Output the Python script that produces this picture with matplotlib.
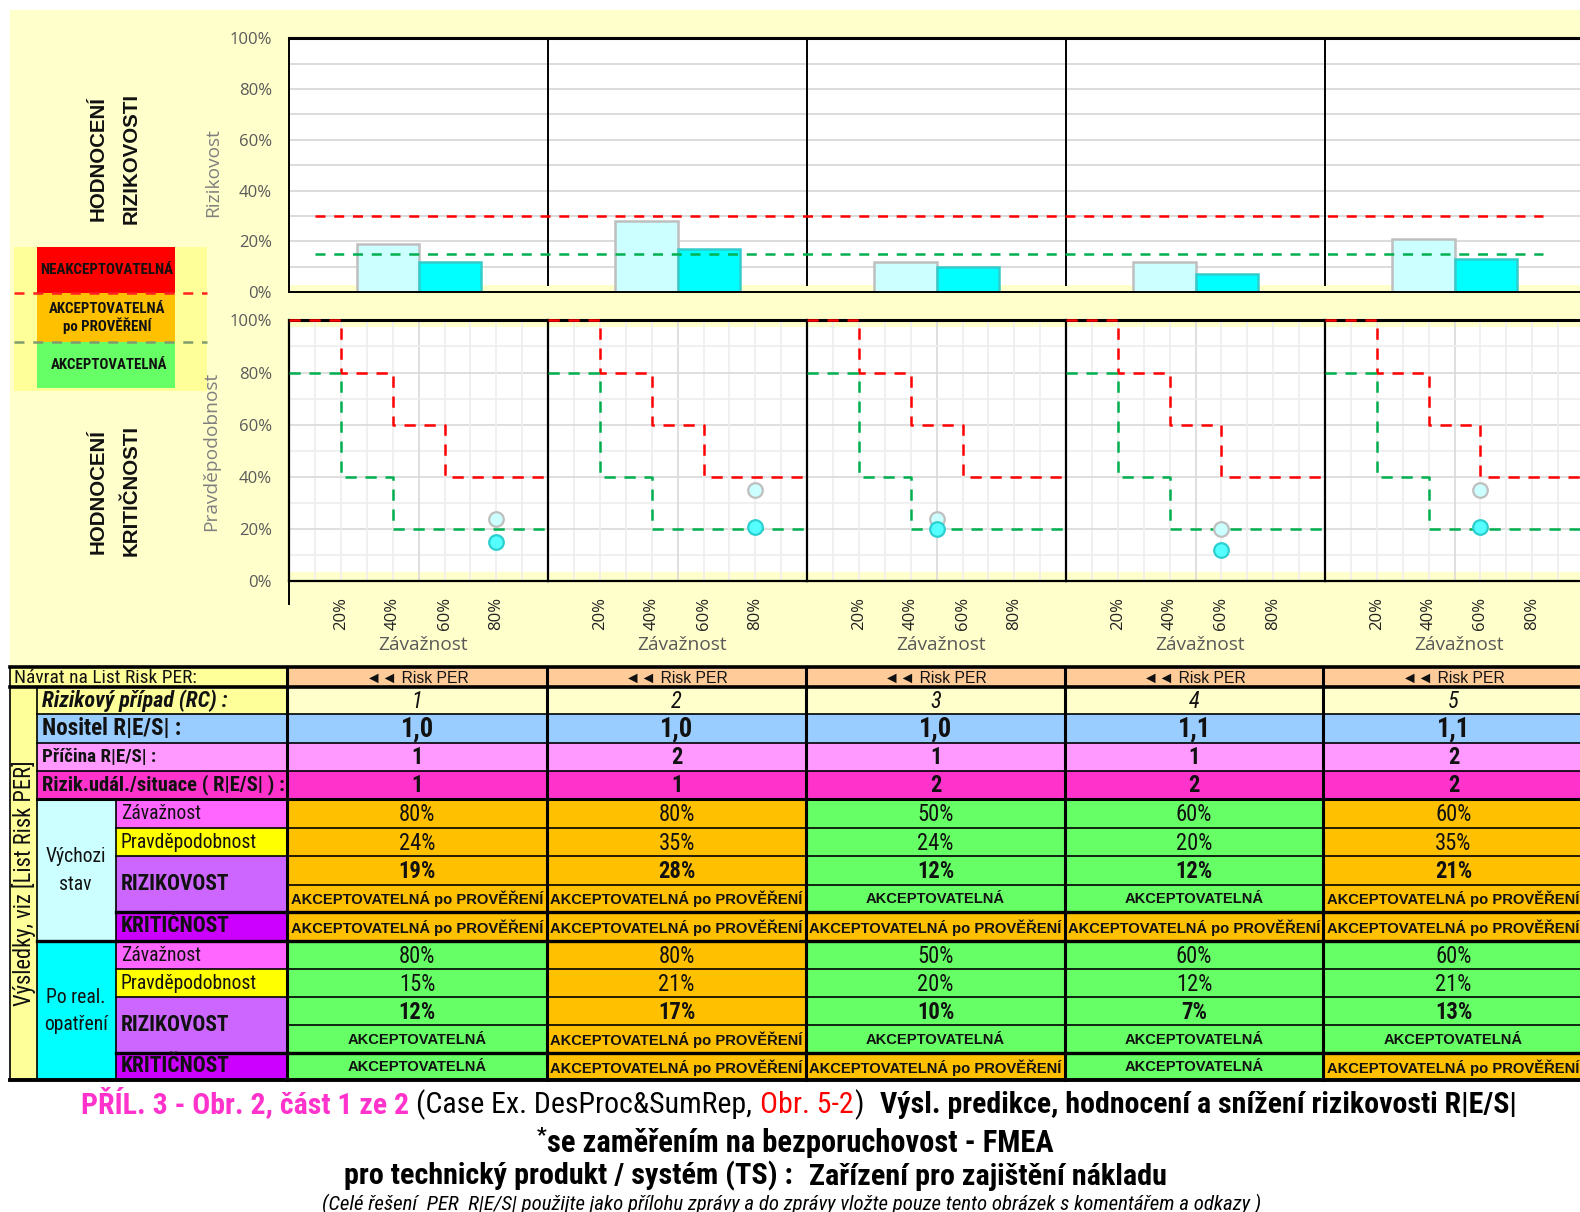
import matplotlib
matplotlib.use("Agg")
import matplotlib.pyplot as plt
from matplotlib import font_manager
from matplotlib.patches import Rectangle
import numpy as np

# ---------------- data ----------------
cases = [1, 2, 3, 4, 5]
nositel = ["1,0", "1,0", "1,0", "1,1", "1,1"]
pricina = [1, 2, 1, 1, 2]
udalost = [1, 1, 2, 2, 2]

zavaznost_init = [0.80, 0.80, 0.50, 0.60, 0.60]
pravdep_init = [0.24, 0.35, 0.24, 0.20, 0.35]
rizikovost_init = [0.19, 0.28, 0.12, 0.12, 0.21]

zavaznost_post = [0.80, 0.80, 0.50, 0.60, 0.60]
pravdep_post = [0.15, 0.21, 0.20, 0.12, 0.21]
rizikovost_post = [0.12, 0.17, 0.10, 0.07, 0.13]

riz_cat_init = ["AP", "AP", "A", "A", "AP"]
krit_cat_init = ["AP", "AP", "AP", "AP", "AP"]
riz_cat_post = ["A", "AP", "A", "A", "A"]
krit_cat_post = ["A", "AP", "AP", "A", "AP"]

risk_limit_red = 0.30
risk_limit_green = 0.15
crit_red_x = [0.0, 0.2, 0.2, 0.4, 0.4, 0.6, 0.6, 1.0]
crit_red_y = [1.0, 1.0, 0.8, 0.8, 0.6, 0.6, 0.4, 0.4]
crit_green_x = [0.0, 0.2, 0.2, 0.4, 0.4, 1.0]
crit_green_y = [0.8, 0.8, 0.4, 0.4, 0.2, 0.2]

y_ticks = [0.0, 0.2, 0.4, 0.6, 0.8, 1.0]
x_ticks = [0.2, 0.4, 0.6, 0.8]

CAT_TEXT = {"A": "AKCEPTOVATELNÁ", "AP": "AKCEPTOVATELNÁ po PROVĚŘENÍ"}
CAT_COLOR = {"A": "#66FF66", "AP": "#FFC000"}


def pct(v):
    return f"{round(v * 100):d}%"


# ---------------- fonts ----------------
def have(name):
    try:
        font_manager.findfont(name, fallback_to_default=False)
        return True
    except Exception:
        return False


SANS = "Liberation Sans" if have("Liberation Sans") else "DejaVu Sans"
CHART = "Open Sans" if have("Open Sans") else "DejaVu Sans"


def pick_narrow():
    entries = font_manager.fontManager.ttflist
    names = {f.name for f in entries}
    for nm in ("Liberation Sans Narrow", "Arial Narrow", "Roboto Condensed",
               "Open Sans Condensed", "Noto Sans Condensed"):
        if nm in names:
            return dict(family=nm)
    for fam in ("Noto Sans", "Open Sans", "DejaVu Sans"):
        cond = [f for f in entries if f.name == fam and
                str(f.stretch) in ("condensed", "semi-condensed", "75", "87")]
        if cond:
            return dict(family=fam, stretch="condensed")
    return dict(family=SANS)


NARROW = pick_narrow()

# ---------------- canvas ----------------
W, H = 1568, 1203
S = 1580 / 1568
fig = plt.figure(figsize=(15.8, 12.12), dpi=100, facecolor="white")
bg = fig.add_axes([0, 0, 1, 1], zorder=0)
bg.set_xlim(0, W)
bg.set_ylim(H, 0)
bg.set_axis_off()
rend = fig.canvas.get_renderer()


def frac(x0, y0, x1, y1):
    return [x0 / W, 1 - y1 / H, (x1 - x0) / W, (y1 - y0) / H]


def box(x0, y0, x1, y1, fc, z=0.5):
    bg.add_patch(Rectangle((x0, y0), x1 - x0, y1 - y0, facecolor=fc,
                           edgecolor="none", zorder=z))


def hline(y, x0, x1, lw=1.0):
    bg.plot([x0, x1], [y, y], color="black", lw=lw, zorder=2,
            solid_capstyle="projecting")


def vline(x, y0, y1, lw=1.0):
    bg.plot([x, x], [y0, y1], color="black", lw=lw, zorder=2,
            solid_capstyle="projecting")


def size_for(s, width, rotation=0, **props):
    fs = 12.0
    for _ in range(3):
        t = bg.text(0, 0, s, fontsize=fs, rotation=rotation, **props)
        bb = t.get_window_extent(renderer=rend)
        w = (bb.height if rotation else bb.width) / S
        t.remove()
        fs *= width / w
    return fs


def label(x, y, s, fs, ha="center", rotation=0, color="#111111", **props):
    return bg.text(x, y, s, fontsize=fs, ha=ha, va="center", rotation=rotation,
                   color=color, zorder=3, **props)


def rich_line(segs, x0, x1, y):
    base = 12.0
    objs = [bg.text(0, y, s, ha="left", va="baseline", fontsize=base * rel,
                    zorder=3, **props) for s, props, rel, gap, dy in segs]
    for _ in range(3):
        em = base * 100 / 72 / S
        ws = [o.get_window_extent(renderer=rend).width / S for o in objs]
        total = sum(ws) + sum(g[3] for g in segs) * em
        base *= (x1 - x0) / total
        for o, sg in zip(objs, segs):
            o.set_fontsize(base * sg[2])
    em = base * 100 / 72 / S
    ws = [o.get_window_extent(renderer=rend).width / S for o in objs]
    x = x0
    for o, sg, w in zip(objs, segs, ws):
        x += sg[3] * em
        o.set_position((x, y + sg[4] * em))
        x += w


# chart area background
box(10, 10, W, 661, "#FFFFCC", z=0.2)

tick_fs = size_for("100%", 42, family=CHART)
axlab_fs = size_for("Rizikovost", 88, family=CHART)
TICK_C = "#595959"
AXLAB_C = "#7F7F7F"
pad_pt = 17 * S / 100 * 72

GX0, GW = 287, 257
idx = np.arange(len(cases))

# ---------------- top chart: rizikovost bars ----------------
ax = fig.add_axes(frac(GX0, 38, GX0 + 5 * GW, 290), zorder=2)
ax.set_xlim(-0.5, 4.5)
ax.set_ylim(0, 1)
ax.set_facecolor("white")
for v in np.arange(0.1, 1.0, 0.1):
    ax.axhline(v, color="#D9D9D9", lw=1.3, zorder=0.6)
ax.add_patch(Rectangle((0, 0), 1, 0.028, transform=ax.transAxes,
                       fc="#FFFFCC", ec="none", zorder=0.7))
for b in idx[:-1] + 0.5:
    ax.axvline(b, ymin=0.03, color="black", lw=1.4, zorder=1)
bw = 0.24
ax.bar(idx - bw / 2, rizikovost_init, bw, color="#CCFFFF",
       edgecolor="#BFBFBF", lw=1.8, zorder=2)
ax.bar(idx + bw / 2, rizikovost_post, bw, color="#00FFFF",
       edgecolor="#33CCCC", lw=1.8, zorder=2)
for lim, col in [(risk_limit_red, "#FF0000"), (risk_limit_green, "#00B050")]:
    ax.plot([-0.4, 4.34], [lim, lim], color=col, lw=1.8,
            dashes=(4, 3.5), zorder=3)
ax.spines["right"].set_visible(False)
ax.spines["top"].set_linewidth(2.2)
ax.spines["left"].set_linewidth(1.4)
ax.spines["bottom"].set_linewidth(1.4)
ax.set_xticks([])
ax.set_yticks(y_ticks)
ax.set_yticklabels([pct(v) for v in y_ticks], fontfamily=CHART,
                   fontsize=tick_fs, color=TICK_C)
ax.tick_params(axis="y", length=0, pad=pad_pt)
label(212, 171, "Rizikovost", axlab_fs, rotation=90, color=AXLAB_C,
      family=CHART)

# ---------------- bottom charts: kritičnost matrices ----------------
for i in range(len(cases)):
    bx = fig.add_axes(frac(GX0 + i * GW, 318, GX0 + (i + 1) * GW, 577), zorder=2)
    bx.set_xlim(0, 1)
    bx.set_ylim(0, 1)
    bx.set_facecolor("white")
    bx.add_patch(Rectangle((0, 0), 1, 0.035, transform=bx.transAxes,
                           fc="#FFFFCC", ec="none", zorder=0.3))
    bx.add_patch(Rectangle((0, 0.975), 1, 0.025, transform=bx.transAxes,
                           fc="#FFFFCC", ec="none", zorder=0.3))
    for v in np.arange(0.1, 1.0, 0.1):
        major_h = round(v * 10) % 2 == 0
        bx.axhline(v, color="#D9D9D9" if major_h else "#EDEDED", lw=1.2, zorder=0.6)
        major_v = abs(v - 0.5) < 1e-6
        bx.axvline(v, color="#D9D9D9" if major_v else "#EDEDED", lw=1.2, zorder=0.6)
    bx.plot(crit_red_x, crit_red_y, color="#FF0000", lw=1.8, dashes=(4.5, 3.5),
            zorder=3, clip_on=False)
    bx.plot(crit_green_x, crit_green_y, color="#00B050", lw=1.8, dashes=(4.5, 3.5),
            zorder=3, clip_on=False)
    bx.plot([zavaznost_init[i]], [pravdep_init[i]], "o", ms=10.5,
            mfc="#CCFFFF", mec="#BFBFBF", mew=1.6, zorder=4)
    bx.plot([zavaznost_post[i]], [pravdep_post[i]], "o", ms=10.5,
            mfc="#55FFFF", mec="#2CCFCF", mew=1.6, zorder=5)
    bx.spines["right"].set_visible(False)
    bx.spines["top"].set_linewidth(2.2)
    bx.spines["bottom"].set_linewidth(1.6)
    bx.spines["left"].set_linewidth(1.6)
    bx.set_xticks(x_ticks)
    bx.set_xticklabels([pct(v) for v in x_ticks], rotation=90,
                       fontfamily=CHART, fontsize=tick_fs, color="#222222")
    bx.tick_params(axis="x", length=0, pad=11.5)
    if i == 0:
        bx.set_yticks(y_ticks)
        bx.set_yticklabels([pct(v) for v in y_ticks], fontfamily=CHART,
                           fontsize=tick_fs, color=TICK_C)
        bx.tick_params(axis="y", length=0, pad=pad_pt)
    else:
        bx.set_yticks([])
    label(GX0 + (i + 0.5) * GW + 4, 640, "Závažnost", axlab_fs,
          color="#595959", family=CHART)

vline(287, 318, 600, lw=1.4)
label(210, 448, "Pravděpodobnost", axlab_fs, rotation=90, color=AXLAB_C,
      family=CHART)

# ---------------- side captions and legend ----------------
h_fs = size_for("RIZIKOVOSTI", 130, rotation=90, family=SANS, weight="bold")
label(97, 157, "HODNOCENÍ", h_fs, rotation=90, family=SANS, weight="bold")
label(130, 157, "RIZIKOVOSTI", h_fs, rotation=90, family=SANS, weight="bold")
label(97, 488, "HODNOCENÍ", h_fs, rotation=90, family=SANS, weight="bold")
label(130, 487, "KRITIČNOSTI", h_fs, rotation=90, family=SANS, weight="bold")

box(14, 245, 205, 388, "#FFFF99", z=0.6)
box(37, 245, 174, 291, "#FF0000", z=0.7)
box(37, 291, 174, 339, "#FFC000", z=0.7)
box(37, 339, 174, 385, "#66FF66", z=0.7)
bg.plot([14, 205], [291, 291], color="#FF2020", lw=1.8, dashes=(4, 3.5), zorder=1)
bg.plot([14, 205], [339, 339], color="#7E9C6E", lw=1.8, dashes=(4, 3.5), zorder=1)
leg_props = dict(NARROW, weight="bold")
leg_fs = size_for("NEAKCEPTOVATELNÁ", 132, **leg_props)
label(106, 268, "NEAKCEPTOVATELNÁ", leg_fs, **leg_props)
label(106, 307, "AKCEPTOVATELNÁ", leg_fs, **leg_props)
label(106, 323, "po PROVĚŘENÍ", leg_fs, **leg_props)
label(108, 362, "AKCEPTOVATELNÁ", leg_fs, **leg_props)

# ---------------- results table ----------------
R = [662, 682, 709, 737, 765, 793, 822, 850, 878, 905, 934, 962, 990, 1017, 1045, 1072]
C = [285, 543, 800, 1057, 1313, 1572]

box(10, R[0], C[0], R[1], "#FFFF99")
box(10, R[1], 37, R[15], "#FFFF99")
box(37, R[1], C[0], R[2], "#FFFF99")
box(37, R[2], C[0], R[3], "#99CCFF")
box(37, R[3], C[0], R[4], "#FF99FF")
box(37, R[4], C[0], R[5], "#FF33CC")

N_REG = dict(NARROW)
N_BOLD = dict(NARROW, weight="bold")
N_BI = dict(NARROW, weight="bold", style="italic")
N_IT = dict(NARROW, style="italic")
ARROW = dict(family=[SANS, "DejaVu Sans"])

fs_navrat = size_for("Návrat na List Risk PER:", 180, **N_REG)
fs_riskper = size_for("◄◄ Risk PER", 102, **ARROW)
fs_rc = size_for("Rizikový případ (RC) :", 184, **N_BI)
fs_nos = size_for("Nositel R|E/S| :", 139, **N_BOLD)
fs_pri = size_for("Příčina R|E/S| :", 113, **N_BOLD)
fs_ud = size_for("Rizik.udál./situace ( R|E/S| ) :", 241, **N_BOLD)
fs_row = size_for("Pravděpodobnost", 135, **N_REG)
fs_blab = size_for("RIZIKOVOST", 108, **N_BOLD)
fs_grp = size_for("Výchozi", 60, **N_REG)
fs_side = size_for("Výsledky, viz [List Risk PER]", 245, rotation=90, **N_REG)
fs_pct = size_for("80%", 36, **N_REG)
fs_big = size_for("19%", 37, **N_BOLD)
fs_cat = size_for("AKCEPTOVATELNÁ po PROVĚŘENÍ", 251, family=SANS, weight="bold")
fs_nosval = size_for("1,0", 33, **N_BOLD)

label(14, (R[0] + R[1]) / 2 + 1, "Návrat na List Risk PER:", fs_navrat, ha="left", **N_REG)
label(24, 877, "Výsledky, viz [List Risk PER]", fs_side, rotation=90, **N_REG)
label(42, (R[1] + R[2]) / 2, "Rizikový případ (RC) :", fs_rc, ha="left", **N_BI)
label(42, (R[2] + R[3]) / 2, "Nositel R|E/S| :", fs_nos, ha="left", **N_BOLD)
label(42, (R[3] + R[4]) / 2, "Příčina R|E/S| :", fs_pri, ha="left", **N_BOLD)
label(42, (R[4] + R[5]) / 2, "Rizik.udál./situace ( R|E/S| ) :", fs_ud, ha="left", **N_BOLD)

groups = [
    (5, "#CCFFFF", ("Výchozi", "stav"), zavaznost_init, pravdep_init,
     rizikovost_init, riz_cat_init, krit_cat_init),
    (10, "#00FFFF", ("Po real.", "opatření"), zavaznost_post, pravdep_post,
     rizikovost_post, riz_cat_post, krit_cat_post),
]
for r0, gcol, gname, zav, pst, riz, rcat, kcat in groups:
    box(37, R[r0], 115, R[r0 + 5], gcol)
    box(115, R[r0], C[0], R[r0 + 1], "#FF66FF")
    box(115, R[r0 + 1], C[0], R[r0 + 2], "#FFFF00")
    box(115, R[r0 + 2], C[0], R[r0 + 4], "#CC66FF")
    box(115, R[r0 + 4], C[0], R[r0 + 5], "#CC00FF")
    gy = (R[r0] + R[r0 + 5]) / 2
    label(75, gy - 13, gname[0], fs_grp, **N_REG)
    label(75, gy + 14, gname[1], fs_grp, **N_REG)
    label(120, (R[r0] + R[r0 + 1]) / 2, "Závažnost", fs_row, ha="left", **N_REG)
    label(120, (R[r0 + 1] + R[r0 + 2]) / 2, "Pravděpodobnost", fs_row, ha="left", **N_REG)
    label(120, (R[r0 + 2] + R[r0 + 4]) / 2, "RIZIKOVOST", fs_blab, ha="left", **N_BOLD)
    label(120, (R[r0 + 4] + R[r0 + 5]) / 2, "KRITIČNOST", fs_blab, ha="left", **N_BOLD)
    for j in range(len(cases)):
        cx = (C[j] + C[j + 1]) / 2
        box(C[j], R[r0], C[j + 1], R[r0 + 4], CAT_COLOR[rcat[j]])
        box(C[j], R[r0 + 4], C[j + 1], R[r0 + 5], CAT_COLOR[kcat[j]])
        label(cx, (R[r0] + R[r0 + 1]) / 2 + 1, pct(zav[j]), fs_pct, **N_REG)
        label(cx, (R[r0 + 1] + R[r0 + 2]) / 2 + 1, pct(pst[j]), fs_pct, **N_REG)
        label(cx, (R[r0 + 2] + R[r0 + 3]) / 2 + 1, pct(riz[j]), fs_big, **N_BOLD)
        label(cx, (R[r0 + 3] + R[r0 + 4]) / 2 + 1, CAT_TEXT[rcat[j]], fs_cat,
              family=SANS, weight="bold")
        label(cx, (R[r0 + 4] + R[r0 + 5]) / 2 + 1, CAT_TEXT[kcat[j]], fs_cat,
              family=SANS, weight="bold")

for j, case in enumerate(cases):
    cx = (C[j] + C[j + 1]) / 2
    box(C[j], R[0], C[j + 1], R[1], "#FFCC99")
    box(C[j], R[1], C[j + 1], R[2], "#FFFFCC")
    box(C[j], R[2], C[j + 1], R[3], "#99CCFF")
    box(C[j], R[3], C[j + 1], R[4], "#FF99FF")
    box(C[j], R[4], C[j + 1], R[5], "#FF33CC")
    label(cx, (R[0] + R[1]) / 2 + 1, "◄◄ Risk PER", fs_riskper, **ARROW)
    label(cx, (R[1] + R[2]) / 2 + 1, str(case), fs_pct, **N_IT)
    label(cx, (R[2] + R[3]) / 2 + 1, nositel[j], fs_nosval, **N_BOLD)
    label(cx, (R[3] + R[4]) / 2 + 1, str(pricina[j]), fs_pct, **N_BOLD)
    label(cx, (R[4] + R[5]) / 2 + 1, str(udalost[j]), fs_big, **N_BOLD)

# grid lines of the table
hline(R[0], 10, C[-1], 2.6)
hline(R[1], 10, C[-1], 2.6)
for y in (R[2], R[3], R[4]):
    hline(y, 37, C[-1], 1.2)
hline(R[5], 37, C[-1], 2.2)
for r0 in (5, 10):
    hline(R[r0 + 1], 115, C[-1], 1.2)
    hline(R[r0 + 2], 115, C[-1], 1.2)
    hline(R[r0 + 3], C[0], C[-1], 1.2)
    hline(R[r0 + 4], 115, C[-1], 2.4)
hline(R[10], 37, C[-1], 2.4)
hline(R[15], 10, C[-1], 2.8)
vline(10, R[0], R[15], 1.2)
vline(37, R[1], R[15], 1.2)
vline(115, R[5], R[15], 1.2)
for x in C[:-1]:
    vline(x, R[0], R[15], 2.2)

# ---------------- caption ----------------
BLK = "#000000"
rich_line([
    ("PŘÍL. 3 - Obr. 2, část 1 ze 2", dict(N_BOLD, color="#FF33CC"), 1, 0, 0),
    ("(Case Ex. DesProc&SumRep,", dict(N_REG, color=BLK), 1, 0.25, 0),
    ("Obr. 5-2", dict(N_REG, color="#FF0000"), 1, 0.25, 0),
    (")", dict(N_REG, color=BLK), 1, 0.02, 0),
    ("Výsl. predikce, hodnocení a snížení rizikovosti R|E/S|",
     dict(N_BOLD, color=BLK), 1, 0.55, 0),
], 80, 1500, 1105)
rich_line([
    ("*", dict(N_BOLD, color=BLK), 0.7, 0, -0.35),
    ("se zaměřením na bezporuchovost - FMEA", dict(N_BOLD, color=BLK), 1, 0.02, 0),
], 533, 1047, 1143)
rich_line([
    ("pro technický produkt / systém (TS) :", dict(N_BOLD, color=BLK), 1, 0, 0),
    ("Zařízení pro zajištění nákladu", dict(N_BOLD, color=BLK), 1, 0.55, 0),
], 341, 1160, 1176)
rich_line([
    ("(Celé řešení  PER  R|E/S| použijte jako přílohu zprávy a do zprávy vložte pouze tento obrázek s komentářem a odkazy )",
     dict(N_IT, color=BLK), 1, 0, 0),
], 320, 1252, 1201)

fig.savefig("out.png", dpi=100, facecolor="white")
